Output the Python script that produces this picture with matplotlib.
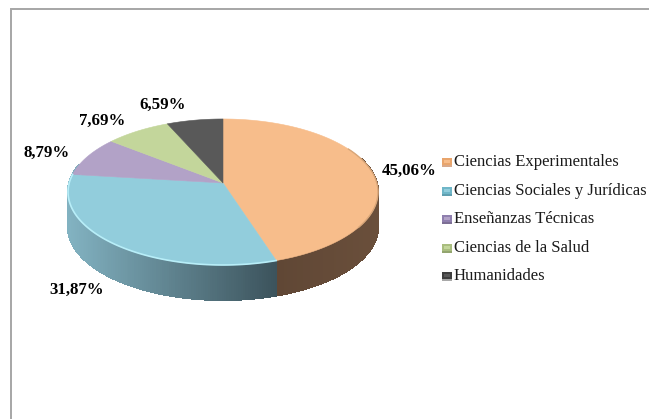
import matplotlib
matplotlib.use("Agg")
import matplotlib.pyplot as plt
import numpy as np
from matplotlib.collections import PolyCollection
from matplotlib.colors import LinearSegmentedColormap
from matplotlib.patches import Polygon, Rectangle

categories = [
    "Ciencias Experimentales",
    "Ciencias Sociales y Jurídicas",
    "Enseñanzas Técnicas",
    "Ciencias de la Salud",
    "Humanidades",
]
values = [45.06, 31.87, 8.79, 7.69, 6.59]
value_labels = ["45,06%", "31,87%", "8,79%", "7,69%", "6,59%"]

top_colors = ["#f7bd8b", "#92cddc", "#b2a2c7", "#c3d69b", "#595959"]
legend_low = ["#d9a98a", "#5f9fb0", "#7d6f95", "#93a56f", "#a8a8a8"]
legend_mid = ["#e9a56c", "#6fb6c8", "#8f7fae", "#a9bd7f", "#3f3f3f"]
label_pos = [(409, 171), (77, 290), (47, 153), (102, 120.5), (163, 104.5)]
legend_y = [162, 191, 219, 248, 276]

CX, CY = 223, 183
AX, AY, K = 153.8, 71.9, 0.123
DEPTH = 35

plt.rcParams["font.family"] = ["Liberation Serif", "DejaVu Serif"]


def project(theta):
    # clockwise angle from 12 o'clock -> screen position, tilted disc
    u, v = np.sin(theta), np.cos(theta)
    w = 1 + K * v
    return CX + AX * u / w, CY - AY * v / w


fig = plt.figure(figsize=(6.49, 4.19), dpi=100)
ax = fig.add_axes([0, 0, 1, 1])
ax.set_xlim(0, 649)
ax.set_ylim(419, 0)
ax.axis("off")

# chart frame, only top and left are in view
ax.plot([10.5, 10.5, 649], [419, 9.5, 9.5], color="#a6a6a6", lw=1.4, solid_joinstyle="miter")

edges = np.radians(np.concatenate([[0], np.cumsum(values)]) * 3.6)

# side wall
blue_side = LinearSegmentedColormap.from_list("blue_side", ["#82b2c1", "#3c535c"])
brown_side = LinearSegmentedColormap.from_list("brown_side", ["#6a4f3b", "#604735"])
for start, stop, cmap in [(np.radians(70), edges[1], brown_side), (edges[1], np.radians(285), blue_side)]:
    t = np.linspace(start, stop, 160)
    x, y = project(t)
    quads = [[(x[i], y[i]), (x[i + 1], y[i + 1]), (x[i + 1], y[i + 1] + DEPTH), (x[i], y[i] + DEPTH)]
             for i in range(len(t) - 1)]
    order = (x[:-1] - x[:-1].min()) / (x[:-1].max() - x[:-1].min())
    if cmap is brown_side:
        order = 1 - order
    ax.add_collection(PolyCollection(quads, facecolors=cmap(order), edgecolors=cmap(order),
                                     linewidths=0.8, antialiaseds=False))

# top wedges
for i, color in enumerate(top_colors):
    t = np.linspace(edges[i], edges[i + 1], 120)
    x, y = project(t)
    pts = np.column_stack([np.r_[CX, x], np.r_[CY, y]])
    ax.add_patch(Polygon(pts, closed=True, facecolor=color, edgecolor=color, lw=0.4, zorder=3))

# bright rim on the blue slice, soft shade on the orange one
t = np.linspace(edges[1], edges[2], 120)
x, y = project(t)
ax.plot(x, y, color="#b8eef8", lw=1.2, zorder=4)
t = np.linspace(np.radians(60), np.radians(125), 80)
x, y = project(t)
ax.plot(x, y, color="#d8a679", lw=1.0, zorder=4)

for (px, py), text in zip(label_pos, value_labels):
    ax.text(px, py, text, ha="center", va="center", fontsize=12.2, fontweight="bold", color="black", zorder=5)

for yy, name, top, mid, low in zip(legend_y, categories, top_colors, legend_mid, legend_low):
    ax.add_patch(Rectangle((442, yy - 4), 10, 8, facecolor=mid, edgecolor="none", zorder=5))
    ax.add_patch(Rectangle((444, yy - 2), 6, 3, facecolor=top, edgecolor="none", zorder=6))
    ax.add_patch(Rectangle((442, yy + 3), 10, 2, facecolor=low, edgecolor="none", zorder=6))
    ax.text(454, yy, name, ha="left", va="center", fontsize=12, color="#1a1a1a", zorder=5)

fig.savefig("out.png", dpi=100)
